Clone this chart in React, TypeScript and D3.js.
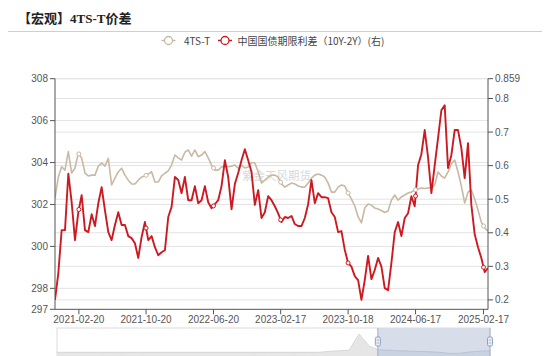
import React from "react";
import * as d3 from "d3";

// ---------- data ----------
const startDate = "2020-11-26";
const stepDays = 12;

// 4TS-T price spread (left axis)
const tsValues = [
  302.31, 303.31, 303.8, 303.64, 304.52, 303.5, 303.74, 304.45, 304.22, 303.5,
  303.36, 303.4, 303.4, 303.83, 303.98, 303.83, 304.2, 302.93, 303.26, 303.55,
  303.73, 303.4, 303.16, 302.98, 302.98, 303.16, 303.31, 303.36, 303.45, 303.56,
  303.07, 303.07, 303.36, 303.49, 303.6, 303.88, 304.36, 304.22, 304.12, 304.5,
  304.6, 304.31, 304.6, 304.28, 304.36, 304.52, 304.22, 303.88, 303.64, 303.64,
  303.79, 303.83, 303.8, 303.83, 303.88, 303.73, 303.88, 303.74, 303.79, 304.0,
  303.98, 303.56, 303.02, 303.16, 303.31, 303.4, 303.4, 303.31, 302.98, 302.83,
  302.93, 303.02, 302.98, 302.88, 302.83, 302.83, 303.02, 303.26, 303.4, 303.45,
  303.4, 303.31, 303.02, 302.59, 302.59, 302.83, 302.93, 302.88, 302.55, 302.26,
  301.93, 301.42, 301.12, 301.83, 302.02, 301.97, 301.83, 301.78, 301.71, 301.62,
  301.69, 302.21, 302.45, 302.21, 302.36, 302.45, 302.55, 302.59, 302.69, 302.74,
  302.79, 302.76, 302.79, 302.79, 302.93, 303.55, 303.36, 303.26, 303.55, 303.93,
  304.12, 303.55, 302.88, 302.07, 302.59, 302.69, 302.26, 301.74, 301.16, 300.88,
  300.73,
];

// China government bond term spread 10Y-2Y (right axis)
const spreadValues = [
  0.2, 0.28, 0.408, 0.408, 0.576, 0.491, 0.378, 0.461, 0.512, 0.408,
  0.402, 0.455, 0.42, 0.488, 0.536, 0.467, 0.402, 0.378, 0.423, 0.461,
  0.423, 0.423, 0.39, 0.384, 0.369, 0.325, 0.387, 0.432, 0.378, 0.39,
  0.357, 0.333, 0.342, 0.348, 0.447, 0.477, 0.566, 0.557, 0.518, 0.566,
  0.497, 0.497, 0.539, 0.488, 0.497, 0.539, 0.491, 0.473, 0.485, 0.497,
  0.539, 0.616, 0.566, 0.47, 0.545, 0.578, 0.616, 0.649, 0.616, 0.581,
  0.483, 0.527, 0.444, 0.461, 0.509, 0.497, 0.479, 0.458, 0.432, 0.447,
  0.444, 0.45, 0.426, 0.42, 0.42, 0.444, 0.485, 0.557, 0.488, 0.518,
  0.506, 0.506, 0.503, 0.461, 0.447, 0.402, 0.405, 0.349, 0.31, 0.299,
  0.271, 0.259, 0.2, 0.259, 0.331, 0.262, 0.289, 0.325, 0.299, 0.235,
  0.229, 0.31, 0.402, 0.432, 0.39, 0.444, 0.458, 0.509, 0.479, 0.601,
  0.634, 0.706, 0.625, 0.518, 0.601, 0.682, 0.765, 0.78, 0.593, 0.631,
  0.706, 0.706, 0.652, 0.563, 0.667, 0.483, 0.396, 0.357, 0.325, 0.283,
  0.295,
];

const xTickLabels = [
  "2021-02-20", "2021-10-20", "2022-06-20", "2023-02-17",
  "2023-10-18", "2024-06-17", "2025-02-17",
];
const leftDomain = [297, 308];
const leftTicks = [297, 298, 300, 302, 304, 306, 308];
const rightDomain = [0.172, 0.859];
const rightTicks = [0.2, 0.3, 0.4, 0.5, 0.6, 0.7, 0.8, 0.859];

const seriesNames = ["4TS-T", "中国国债期限利差（10Y-2Y）(右)"];
const titleText = "【宏观】4TS-T价差";
const watermark = "紫金天风期货";

// data-zoom slider: shadow heights (0-100) and selected window (percent)
const sliderShadow = [
  19, 19, 19, 19, 19, 19, 19, 19, 19, 19, 19, 19, 19, 19, 19, 19, 19, 19, 19, 19,
  19, 19, 19, 19, 19, 19, 19, 22, 24, 26, 80, 40, 27, 26, 24, 23, 22, 21, 19, 15,
  16, 20, 23, 24,
];
const sliderWindow = [74.1, 100];

// ---------- style ----------
const BEIGE = "#c8b9a5";
const RED = "#cc1a22";
const GRID = "#e3e3e3";
const AXIS = "#555";
const LABEL = "#555";
const SANS = "'Liberation Sans', Arial, sans-serif";
const CJK = "'Noto Sans CJK SC', 'Noto Sans', sans-serif";

export default function App() {
  const W = 550, H = 356;
  const L = 55, R = 488, T = 78.7, B = 309.3;

  const parse = d3.timeParse("%Y-%m-%d");
  const start = parse(startDate) as Date;
  const dates = tsValues.map((_, i) => d3.timeDay.offset(start, i * stepDays));
  const tickDates = xTickLabels.map((s) => parse(s) as Date);

  const x = d3.scaleTime().domain([dates[0], dates[dates.length - 1]]).range([L, R]);
  const yL = d3.scaleLinear().domain(leftDomain).range([B, T]);
  const yR = d3.scaleLinear().domain(rightDomain).range([B, T]);

  const lineL = d3.line<number>().x((_, i) => x(dates[i])).y((d) => yL(d));
  const lineR = d3.line<number>().x((_, i) => x(dates[i])).y((d) => yR(d));

  const interp = (vals: number[], t: Date) => {
    const i = Math.max(1, Math.min(dates.length - 1, d3.bisectLeft(dates, t)));
    const t0 = +dates[i - 1], t1 = +dates[i];
    const f = (+t - t0) / (t1 - t0);
    return vals[i - 1] + (vals[i] - vals[i - 1]) * f;
  };

  // slider
  const sL = 57, sR = 490, sT = 328, sB = 358;
  const sx = d3.scaleLinear().domain([0, sliderShadow.length - 1]).range([sL, sR]);
  const sy = d3.scaleLinear().domain([0, 100]).range([sB, sT]);
  const sArea = d3.area<number>().x((_, i) => sx(i)).y0(sB).y1((d) => sy(d));
  const sLine = d3.line<number>().x((_, i) => sx(i)).y((d) => sy(d));
  const wp = d3.scaleLinear().domain([0, 100]).range([sL, sR]);
  const w0 = wp(sliderWindow[0]), w1 = wp(sliderWindow[1]);

  return (
    <svg width={W} height={H} style={{ position: "absolute", left: 0, top: 0, background: "#fff" }}>
      <defs>
        <clipPath id="plotclip">
          <rect x={L} y={T - 4} width={R - L} height={B - T + 8} />
        </clipPath>
        <clipPath id="winclip">
          <rect x={w0} y={sT} width={w1 - w0} height={sB - sT} />
        </clipPath>
      </defs>

      {/* title */}
      <text x={18} y={22.5} fontSize={13} fontWeight="bold" fill="#222"
        fontFamily="'Liberation Serif', 'Noto Sans CJK SC', serif">{titleText}</text>
      <line x1={8} x2={542} y1={31.5} y2={31.5} stroke="#cfcfcf" strokeWidth={1} />

      {/* legend */}
      <g fontFamily={CJK} fontSize={10} fill="#444">
        <line x1={161.5} x2={175.5} y1={40.5} y2={40.5} stroke={BEIGE} strokeWidth={1.5} />
        <circle cx={168.5} cy={40.5} r={4} fill="#fff" stroke={BEIGE} strokeWidth={1.3} />
        <text x={184} y={40.5} dominantBaseline="central">{seriesNames[0]}</text>
        <line x1={218} x2={232} y1={40.5} y2={40.5} stroke={RED} strokeWidth={1.5} />
        <circle cx={225} cy={40.5} r={4} fill="#fff" stroke={RED} strokeWidth={1.3} />
        <text x={237.5} y={40.5} dominantBaseline="central">{seriesNames[1]}</text>
      </g>

      {/* grid */}
      <g>
        {leftTicks.filter((v) => v > leftDomain[0]).map((v) => (
          <line key={"gl" + v} x1={L} x2={R} y1={yL(v)} y2={yL(v)} stroke={GRID} strokeWidth={1} />
        ))}
        {rightTicks.map((v) => (
          <line key={"gr" + v} x1={L} x2={R} y1={yR(v)} y2={yR(v)} stroke={GRID} strokeWidth={1} />
        ))}
      </g>

      {/* watermark */}
      <text x={242} y={175} fontSize={11.5} fontFamily={CJK} fill="#aaa" opacity={0.45}
        dominantBaseline="central">{watermark}</text>

      {/* series */}
      <g clipPath="url(#plotclip)">
        <path d={lineL(tsValues) || ""} fill="none" stroke={BEIGE} strokeWidth={1.6} strokeLinejoin="round" />
        <path d={lineR(spreadValues) || ""} fill="none" stroke={RED} strokeWidth={1.9} strokeLinejoin="round" />
      </g>
      {tickDates.map((t, k) => (
        <g key={"mk" + k}>
          <circle cx={x(t)} cy={yL(interp(tsValues, t))} r={2} fill="#fff" stroke={BEIGE} strokeWidth={1} />
          <circle cx={x(t)} cy={yR(interp(spreadValues, t))} r={2} fill="#fff" stroke={RED} strokeWidth={1} />
        </g>
      ))}

      {/* axes */}
      <g fontFamily={SANS} fontSize={10} fill={LABEL}>
        <line x1={L} x2={L} y1={T} y2={B} stroke={AXIS} strokeWidth={1} />
        {leftTicks.map((v) => (
          <g key={"lt" + v}>
            <line x1={L - 5} x2={L} y1={yL(v)} y2={yL(v)} stroke={AXIS} />
            <text x={L - 7} y={yL(v)} textAnchor="end" dominantBaseline="central">{d3.format("d")(v)}</text>
          </g>
        ))}
        <line x1={R} x2={R} y1={T} y2={B} stroke={AXIS} strokeWidth={1} />
        {rightTicks.map((v) => (
          <g key={"rt" + v}>
            <line x1={R} x2={R + 5} y1={yR(v)} y2={yR(v)} stroke={AXIS} />
            <text x={R + 7} y={yR(v)} dominantBaseline="central">{String(v)}</text>
          </g>
        ))}
        <line x1={L} x2={R} y1={B} y2={B} stroke={AXIS} strokeWidth={1} />
        {tickDates.map((t, k) => (
          <g key={"xt" + k}>
            <line x1={x(t)} x2={x(t)} y1={B} y2={B + 5} stroke={AXIS} />
            <text x={x(t)} y={B + 10.5} textAnchor="middle" dominantBaseline="central">{xTickLabels[k]}</text>
          </g>
        ))}
      </g>

      {/* data zoom slider */}
      <g>
        <rect x={sL} y={sT} width={sR - sL} height={sB - sT} fill="#fff" stroke="#dcdcdc" />
        <path d={sArea(sliderShadow) || ""} fill="#e6e6e6" />
        <path d={sLine(sliderShadow) || ""} fill="none" stroke="#d0d0d0" strokeWidth={0.8} />
        <rect x={w0} y={sT} width={w1 - w0} height={sB - sT} fill="#d8dee9" />
        <g clipPath="url(#winclip)">
          <path d={sArea(sliderShadow) || ""} fill="#c9d2e0" />
          <path d={sLine(sliderShadow) || ""} fill="none" stroke="#b3bfd2" strokeWidth={0.8} />
        </g>
        {[w0, w1].map((hx, k) => (
          <g key={"h" + k}>
            <line x1={hx} x2={hx} y1={sT} y2={sB} stroke="#9fb0ca" strokeWidth={1} />
            <rect x={hx - 2.5} y={337} width={5} height={9} rx={1.5} fill="#e9eef6" stroke="#8fa2c2" strokeWidth={1} />
            <line x1={hx - 1.2} x2={hx + 1.2} y1={340} y2={340} stroke="#8fa2c2" strokeWidth={0.8} />
            <line x1={hx - 1.2} x2={hx + 1.2} y1={343} y2={343} stroke="#8fa2c2" strokeWidth={0.8} />
          </g>
        ))}
      </g>
    </svg>
  );
}
